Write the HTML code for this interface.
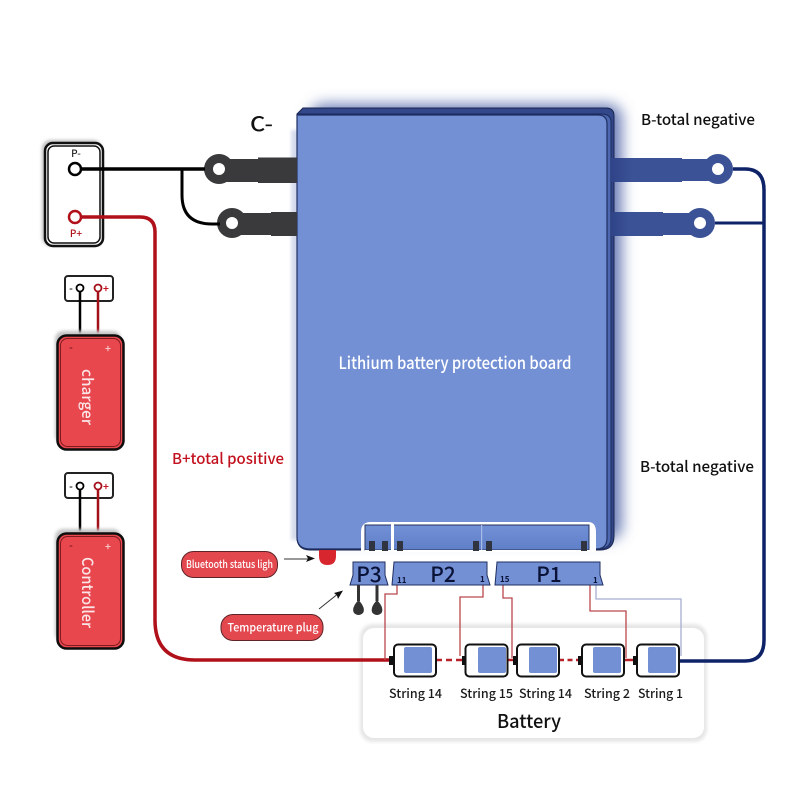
<!DOCTYPE html>
<html>
<head>
<meta charset="utf-8">
<style>
html,body{margin:0;padding:0;background:#fff;width:800px;height:800px;overflow:hidden}
svg{display:block}
text{font-family:"Noto Sans CJK SC","Liberation Sans",sans-serif;font-weight:500}
</style>
</head>
<body>
<svg width="800" height="800" viewBox="0 0 800 800" xmlns="http://www.w3.org/2000/svg">
<defs>
<filter id="blur" x="-20%" y="-20%" width="140%" height="140%"><feGaussianBlur stdDeviation="7"/></filter>
<filter id="soft" x="-20%" y="-20%" width="140%" height="140%"><feGaussianBlur stdDeviation="1.5"/></filter>
<linearGradient id="notch" x1="0" y1="0" x2="0" y2="1"><stop offset="0" stop-color="#7290d6"/><stop offset="1" stop-color="#5f7fc8"/></linearGradient>
<linearGradient id="lugR" x1="0" y1="0" x2="1" y2="0"><stop offset="0" stop-color="#2f4488"/><stop offset=".2" stop-color="#3c5296"/><stop offset="1" stop-color="#3c5296"/></linearGradient>
</defs>

<!-- shadow -->
<rect x="310" y="104" width="312" height="436" rx="14" fill="#6d7fb8" filter="url(#blur)"/>
<rect x="291" y="130" width="10" height="410" fill="#9aa8d0" filter="url(#soft)" opacity=".4"/>

<!-- board stack -->
<path d="M297 114 L303 108 H606 Q614 108 614 116 V536 Q614 550 600 550 H310 Q297 550 297 537 Z" fill="#33488a" stroke="#1a2550" stroke-width="1"/>
<path d="M297 114 H601 Q611 114 611 122 V538 Q611 549 598 549 H310 Q297 549 297 537 Z" fill="#4d68b0" stroke="#1a2a5c" stroke-width="1"/>
<path d="M297 115 H598 Q607 115 607 124 V538 Q607 549 596 549 H310 Q297 549 297 537 Z" fill="#7390d4" stroke="#1f2f62" stroke-width="1.2"/>

<!-- notch -->
<path d="M361 551 V532 Q361 522 371 522 H588 Q596 522 596 532 V551 Z" fill="#fff"/>
<path d="M365 550 V525 H589 V550 Z" fill="url(#notch)" stroke="#22315f" stroke-width="1"/>
<rect x="365" y="550" width="230" height="2" fill="#fff"/>
<rect x="391" y="523" width="3" height="28" fill="#fff"/>
<rect x="481" y="525" width="1.2" height="25" fill="#a8bbe6"/>
<rect x="369" y="541" width="6" height="10" fill="#2f3440"/><rect x="382" y="541" width="6" height="10" fill="#2f3440"/><rect x="397" y="541" width="6" height="10" fill="#2f3440"/>
<rect x="473" y="541" width="6" height="10" fill="#2f3440"/><rect x="486" y="541" width="6" height="10" fill="#2f3440"/><rect x="581" y="541" width="6" height="10" fill="#2f3440"/>

<text x="455" y="369" font-size="17" fill="#fff" text-anchor="middle" textLength="233" lengthAdjust="spacingAndGlyphs">Lithium battery protection board</text>

<!-- left lugs -->
<g fill="#3a3a3c">
<path d="M222 159 H258 V157.500 H297 V183 H258 V182 H222 Z"/>
<circle cx="219" cy="169" r="15"/>
<path d="M236 213 H271 V212 H297 V236 H271 V235 H236 Z"/>
<circle cx="232" cy="223" r="15"/>
</g>
<circle cx="219" cy="169" r="6" fill="#fff"/><circle cx="232" cy="223" r="6" fill="#fff"/>

<!-- right lugs -->
<g fill="#3c5296">
<path d="M611 158 H682 V159 H718 V181 H682 V182 H611 Z" fill="url(#lugR)"/>
<circle cx="718" cy="169" r="15"/>
<path d="M611 212 H663 V213 H700 V235 H663 V236 H611 Z" fill="url(#lugR)"/>
<circle cx="700" cy="223" r="15"/>
</g>
<circle cx="718" cy="169" r="6" fill="#fff"/><circle cx="700" cy="223" r="6" fill="#fff"/>

<!-- battery panel -->
<rect x="360" y="624" width="347" height="118" rx="13" fill="#e6e6e6" filter="url(#soft)"/>
<rect x="363" y="628" width="341" height="110" rx="11" fill="#fff"/>

<!-- wires -->
<path d="M733 169 H745 Q764 169 764 190 V640 Q764 661 745 661 H679" fill="none" stroke="#0e2268" stroke-width="3.500"/>
<path d="M715 223 H764" fill="none" stroke="#0e2268" stroke-width="3"/>

<!-- P terminal -->
<rect x="42" y="140" width="60" height="106" rx="9" fill="#bdbdbd" filter="url(#soft)"/>
<rect x="45" y="143" width="58" height="103" rx="8" fill="#fff" stroke="#111" stroke-width="2.500"/>
<rect x="48" y="146" width="52" height="97" rx="6" fill="none" stroke="#111" stroke-width="1.500"/>
<path d="M75 169 H205" stroke="#000" stroke-width="3.500" fill="none"/>
<path d="M182 169 V195 Q182 224 212 224 H220" stroke="#000" stroke-width="3" fill="none"/>
<path d="M75 217 H140 Q155 217 155 232 V620 Q155 660 195 660 H390" stroke="#b01019" stroke-width="3.500" fill="none"/>
<circle cx="75" cy="169" r="6" fill="#fff" stroke="#000" stroke-width="2.500"/>
<circle cx="75" cy="217" r="6" fill="#fff" stroke="#b01019" stroke-width="2.500"/>
<text x="76" y="157" font-size="10" fill="#222" text-anchor="middle">P-</text>
<text x="76" y="237" font-size="10" fill="#b01019" text-anchor="middle">P+</text>

<text x="250" y="131" font-size="20" fill="#111" textLength="23" lengthAdjust="spacingAndGlyphs">C-</text>
<text x="641" y="125" font-size="15" fill="#111" textLength="114" lengthAdjust="spacingAndGlyphs">B-total negative</text>
<text x="640" y="472" font-size="15" fill="#111" textLength="114" lengthAdjust="spacingAndGlyphs">B-total negative</text>
<text x="172" y="464" font-size="15" fill="#c3121f" textLength="112" lengthAdjust="spacingAndGlyphs">B+total positive</text>

<!-- charger -->
<rect x="65" y="276" width="48" height="25" rx="3" fill="#fff" stroke="#222" stroke-width="2"/>
<path d="M80 288 V335" stroke="#000" stroke-width="2.500"/>
<path d="M98 288 V335" stroke="#a4101a" stroke-width="2.500"/>
<circle cx="80" cy="288" r="3.500" fill="#fff" stroke="#000" stroke-width="1.800"/>
<circle cx="98" cy="288" r="3.500" fill="#fff" stroke="#a4101a" stroke-width="1.800"/>
<text x="71" y="292" font-size="10" style="font-weight:700" fill="#222" text-anchor="middle">-</text>
<text x="106" y="292" font-size="10" style="font-weight:700" fill="#c3121f" text-anchor="middle">+</text>
<rect x="55" y="331" width="66" height="112" rx="8" fill="#c4c4c4" filter="url(#soft)"/>
<rect x="57.500" y="335.500" width="66" height="114" rx="9" fill="#e9474e" stroke="#0d0d0d" stroke-width="2.500"/>
<rect x="60.500" y="338.500" width="60" height="108" rx="7" fill="none" stroke="#7d1b20" stroke-width="1"/>
<text x="71" y="351" font-size="10" style="font-weight:700" fill="#7d1b20" text-anchor="middle">-</text>
<text x="108" y="352" font-size="10" style="font-weight:700" fill="#f7c5c7" text-anchor="middle">+</text>
<text transform="translate(82 369) rotate(90)" font-size="15.500" fill="#fbe5e6" textLength="56" lengthAdjust="spacingAndGlyphs">charger</text>

<!-- controller -->
<rect x="65" y="473" width="48" height="25" rx="3" fill="#fff" stroke="#222" stroke-width="2"/>
<path d="M80 486 V533" stroke="#000" stroke-width="2.500"/>
<path d="M98 486 V533" stroke="#a4101a" stroke-width="2.500"/>
<circle cx="80" cy="486" r="3.500" fill="#fff" stroke="#000" stroke-width="1.800"/>
<circle cx="98" cy="486" r="3.500" fill="#fff" stroke="#a4101a" stroke-width="1.800"/>
<text x="71" y="490" font-size="10" style="font-weight:700" fill="#222" text-anchor="middle">-</text>
<text x="106" y="490" font-size="10" style="font-weight:700" fill="#c3121f" text-anchor="middle">+</text>
<rect x="55" y="529" width="66" height="112" rx="8" fill="#c4c4c4" filter="url(#soft)"/>
<rect x="57.500" y="533.500" width="66" height="115" rx="9" fill="#e9474e" stroke="#0d0d0d" stroke-width="2.500"/>
<rect x="60.500" y="536.500" width="60" height="109" rx="7" fill="none" stroke="#7d1b20" stroke-width="1"/>
<text x="71" y="549" font-size="10" style="font-weight:700" fill="#7d1b20" text-anchor="middle">-</text>
<text x="108" y="550" font-size="10" style="font-weight:700" fill="#f7c5c7" text-anchor="middle">+</text>
<text transform="translate(82 557) rotate(90)" font-size="15.500" fill="#fbe5e6" textLength="71" lengthAdjust="spacingAndGlyphs">Controller</text>

<!-- connection wires -->
<g fill="none" stroke="#b9474c" stroke-width="1.300">
<path d="M397 585 V594 H385 V660"/>
<path d="M483 585 V597 H460 V656"/>
<path d="M503 585 V598 H512 V658"/>
<path d="M590 585 V611 H626 V658"/>
</g>
<path d="M596 585 V599 H681 V656" fill="none" stroke="#a6aed0" stroke-width="1.300"/>

<!-- series links -->
<path d="M436 660 H465" stroke="#b8232b" stroke-width="2.500" stroke-dasharray="6 4"/>
<path d="M508 660 H516" stroke="#b8232b" stroke-width="2.500"/>
<path d="M559 660 H581" stroke="#b8232b" stroke-width="2.500" stroke-dasharray="5 3.500"/>
<path d="M624 660 H636" stroke="#b8232b" stroke-width="2.500"/>

<!-- cells -->
<g fill="#fff" stroke="#111" stroke-width="2">
<rect x="394" y="644.500" width="42" height="32" rx="4"/>
<rect x="465.500" y="644.500" width="42" height="32" rx="4"/>
<rect x="517" y="644.500" width="42" height="32" rx="4"/>
<rect x="582" y="644.500" width="42" height="32" rx="4"/>
<rect x="637" y="644.500" width="42" height="32" rx="4"/>
</g>
<g fill="#7390d4">
<rect x="404" y="647" width="28" height="26" rx="2"/>
<rect x="478" y="647" width="28" height="26" rx="2"/>
<rect x="529" y="647" width="28" height="26" rx="2"/>
<rect x="593" y="647" width="28" height="26" rx="2"/>
<rect x="648" y="647" width="28" height="26" rx="2"/>
</g>
<g fill="#111">
<rect x="389" y="656" width="4" height="9"/><rect x="462" y="656" width="4" height="9"/><rect x="513" y="656" width="4" height="9"/><rect x="578" y="656" width="4" height="9"/><rect x="633" y="656" width="4" height="9"/>
</g>

<g font-size="12.500" fill="#1a1a1a">
<text x="389" y="698" textLength="53" lengthAdjust="spacingAndGlyphs">String 14</text>
<text x="460" y="698" textLength="53" lengthAdjust="spacingAndGlyphs">String 15</text>
<text x="519" y="698" textLength="53" lengthAdjust="spacingAndGlyphs">String 14</text>
<text x="584" y="698" textLength="46" lengthAdjust="spacingAndGlyphs">String 2</text>
<text x="638" y="698" textLength="45" lengthAdjust="spacingAndGlyphs">String 1</text>
</g>
<text x="497" y="728" font-size="19" fill="#111" textLength="64" lengthAdjust="spacingAndGlyphs">Battery</text>

<!-- plugs -->
<path d="M353 562 H385 V575 L388 585 H350 L353 575 Z" fill="#7390d4" stroke="#1f2f62" stroke-width="1"/>
<path d="M394 562 H487 V575 L490 585 H392 Z" fill="#7390d4" stroke="#1f2f62" stroke-width="1"/>
<path d="M497 562 H600 V575 L603 585 H495 Z" fill="#7390d4" stroke="#1f2f62" stroke-width="1"/>
<text x="369" y="582" font-size="21" fill="#0a1238" text-anchor="middle">P3</text>
<text x="443" y="582" font-size="21" fill="#0a1238" text-anchor="middle">P2</text>
<text x="549" y="582" font-size="21" fill="#0a1238" text-anchor="middle">P1</text>
<text x="397" y="583" font-size="8" style="font-weight:700" fill="#0a1238">11</text>
<text x="480" y="582" font-size="8" style="font-weight:700" fill="#0a1238">1</text>
<text x="500" y="582" font-size="8" style="font-weight:700" fill="#0a1238">15</text>
<text x="593" y="583" font-size="8" style="font-weight:700" fill="#0a1238">1</text>

<!-- temp probes -->
<path d="M358.500 585 V601 M377 585 V601" stroke="#333" stroke-width="3" fill="none"/>
<path d="M358.500 600 Q351 608 354 613 Q358.500 617 363 613 Q366 608 358.500 600 Z" fill="#333"/>
<path d="M377 600 Q369.500 608 372.500 613 Q377 617 381.500 613 Q384.500 608 377 600 Z" fill="#333"/>

<!-- LED -->
<path d="M319 550 H336 V556 Q336 565 327.500 565 Q319 565 319 556 Z" fill="#d8262e"/>

<!-- pills -->
<rect x="181.500" y="551.500" width="96" height="26" rx="12" fill="#e3484f" stroke="#5c2428" stroke-width="1"/>
<text x="229.500" y="568" font-size="10.500" fill="#fff" text-anchor="middle" textLength="87" lengthAdjust="spacingAndGlyphs">Bluetooth status ligh</text>
<rect x="221" y="614.500" width="102" height="26" rx="12" fill="#e3484f" stroke="#5c2428" stroke-width="1"/>
<text x="273" y="631.500" font-size="11.500" fill="#fff" text-anchor="middle" textLength="91" lengthAdjust="spacingAndGlyphs">Temperature plug</text>

<!-- arrows -->
<path d="M284 559 H310" stroke="#333" stroke-width="1" fill="none"/>
<path d="M315 558.500 L306 555 L308 558.500 L306 562 Z" fill="#111"/>
<path d="M319 609 L339 593" stroke="#333" stroke-width="1" fill="none"/>
<path d="M343 590.500 L334 593 L337 595.500 L338 599 Z" fill="#111"/>
</svg>
</body>
</html>
